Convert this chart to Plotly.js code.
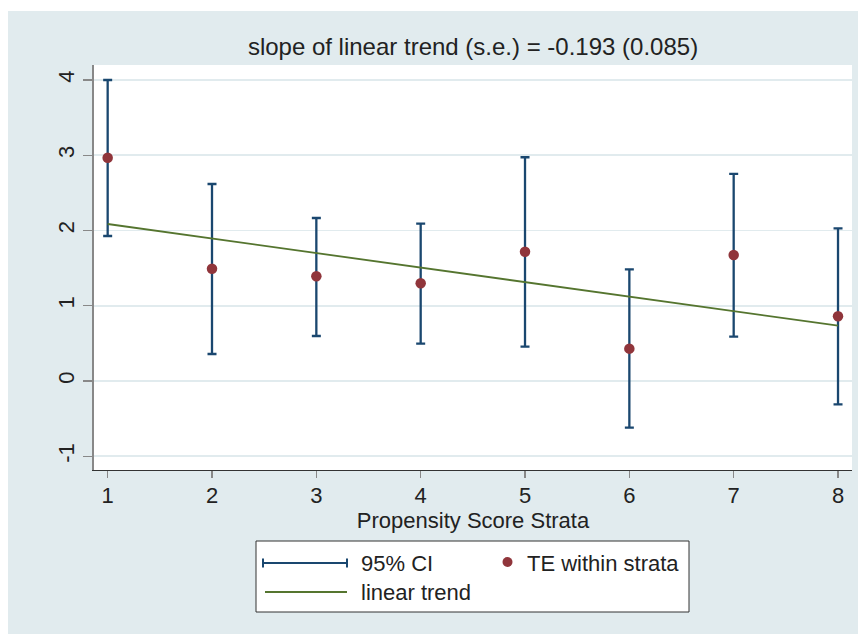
<!DOCTYPE html>
<html>
<head>
<meta charset="utf-8">
<script src="https://cdn.plot.ly/plotly-3.0.1.min.js"></script>
<style>html,body{margin:0;padding:0;background:#fff;}#chart{width:862px;height:634px;}</style>
</head>
<body>
<div id="chart"></div>
<script>
// ---- data ----
const strata = [1, 2, 3, 4, 5, 6, 7, 8];
const teWithin = [2.967, 1.492, 1.391, 1.298, 1.718, 0.430, 1.674, 0.860];
const ciLow  = [1.927, 0.359, 0.598, 0.496, 0.456, -0.620, 0.589, -0.310];
const ciHigh = [4.000, 2.618, 2.166, 2.091, 2.973, 1.484, 2.751, 2.029];
const trendX = [1, 8];
const trendY = [2.086, 0.735];
const xTickVals = [1, 2, 3, 4, 5, 6, 7, 8];
const yTickVals = [-1, 0, 1, 2, 3, 4];
const titleText = "slope of linear trend (s.e.) = -0.193 (0.085)";
const xTitle = "Propensity Score Strata";
const legendLabels = ["95% CI", "TE within strata", "linear trend"];

// ---- colours ----
const NAVY = "#1a476f", MAROON = "#90353b", GREEN = "#55752f";
const BG = "#e1ebee", GRID = "#e1ebee";
const FONT = "Liberation Sans, Arial, sans-serif";
const TXT = "#222";

// plot area in pixels: x 94..852, y 65..470
const L = 94, R = 852, T = 65, B = 470, W = 862, H = 634;
const px = v => (v - L) / (R - L);
const py = v => (B - v) / (B - T);

const traces = [
  {
    x: strata, y: teWithin, type: "scatter", mode: "markers", name: legendLabels[0],
    marker: {size: 10, color: "rgba(0,0,0,0)"},
    error_y: {type: "data", symmetric: false,
      array: ciHigh.map((h, i) => h - teWithin[i]),
      arrayminus: ciLow.map((l, i) => teWithin[i] - l),
      color: NAVY, thickness: 2.3, width: 4.5},
    showlegend: false, hoverinfo: "skip"
  },
  {
    x: trendX, y: trendY, type: "scatter", mode: "lines", name: legendLabels[2],
    line: {color: GREEN, width: 1.8}, showlegend: false
  },
  {
    x: strata, y: teWithin, type: "scatter", mode: "markers", name: legendLabels[1],
    marker: {size: 10.5, color: MAROON}, showlegend: false
  }
];

const shapes = [
  // white page border strips
  {type: "rect", xref: "paper", yref: "paper", x0: px(0), x1: px(W), y0: py(11), y1: py(0), fillcolor: "#fff", line: {width: 0}},
  {type: "rect", xref: "paper", yref: "paper", x0: px(0), x1: px(8), y0: py(H), y1: py(0), fillcolor: "#fff", line: {width: 0}},
  {type: "rect", xref: "paper", yref: "paper", x0: px(858), x1: px(W), y0: py(H), y1: py(0), fillcolor: "#fff", line: {width: 0}},
  // legend box
  {type: "rect", xref: "paper", yref: "paper", x0: px(256), x1: px(689), y0: py(612), y1: py(541), fillcolor: "#fff", line: {color: "#333", width: 1}},
  // CI key
  {type: "line", xref: "paper", yref: "paper", x0: px(263), x1: px(347), y0: py(563), y1: py(563), line: {color: NAVY, width: 2}},
  {type: "line", xref: "paper", yref: "paper", x0: px(263), x1: px(263), y0: py(558.5), y1: py(567.5), line: {color: NAVY, width: 2}},
  {type: "line", xref: "paper", yref: "paper", x0: px(347), x1: px(347), y0: py(558.5), y1: py(567.5), line: {color: NAVY, width: 2}},
  // TE key
  {type: "circle", xref: "paper", yref: "paper", x0: px(502.5), x1: px(512.5), y0: py(567), y1: py(557), fillcolor: MAROON, line: {width: 0}},
  // trend key
  {type: "line", xref: "paper", yref: "paper", x0: px(265), x1: px(347), y0: py(592), y1: py(592), line: {color: GREEN, width: 2}}
];

const annFont = {family: FONT, size: 22, color: TXT};
const annotations = [
  {xref: "paper", yref: "paper", x: px(359), y: py(563), xanchor: "left", yanchor: "middle", text: legendLabels[0], showarrow: false, font: annFont},
  {xref: "paper", yref: "paper", x: px(525), y: py(563), xanchor: "left", yanchor: "middle", text: legendLabels[1], showarrow: false, font: annFont},
  {xref: "paper", yref: "paper", x: px(359), y: py(592), xanchor: "left", yanchor: "middle", text: legendLabels[2], showarrow: false, font: annFont}
];

const layout = {
  width: W, height: H,
  paper_bgcolor: BG, plot_bgcolor: "#fff",
  margin: {l: L, r: W - R, t: T, b: H - B, pad: 0},
  font: {family: FONT, size: 22, color: TXT},
  showlegend: false,
  title: {text: titleText, font: {family: FONT, size: 24, color: TXT},
          xref: "paper", x: 0.5, xanchor: "center", yref: "container", y: 1 - 47 / H, yanchor: "middle"},
  xaxis: {
    range: [0.869, 8.134], tickvals: xTickVals, ticktext: xTickVals.map(String),
    showgrid: false, zeroline: false, showline: true, linecolor: "#333", linewidth: 1.3,
    ticks: "outside", ticklen: 7, tickwidth: 1.3, tickcolor: "#888", ticklabelstandoff: -2,
    tickfont: {family: FONT, size: 22, color: TXT},
    title: {text: xTitle, font: {family: FONT, size: 22, color: TXT}, standoff: 0},
    fixedrange: true
  },
  yaxis: {
    range: [-1.1827, 4.199], tickvals: yTickVals, ticktext: yTickVals.map(String),
    showgrid: true, gridcolor: GRID, gridwidth: 1.7, zeroline: false,
    showline: true, linecolor: "#888", linewidth: 2,
    ticks: "outside", ticklen: 9, tickwidth: 1.3, tickcolor: "#888", tickangle: -90,
    tickfont: {family: FONT, size: 22, color: TXT},
    fixedrange: true
  },
  shapes: shapes,
  annotations: annotations
};

Plotly.newPlot("chart", traces, layout, {displayModeBar: false, staticPlot: true});
</script>
</body>
</html>
